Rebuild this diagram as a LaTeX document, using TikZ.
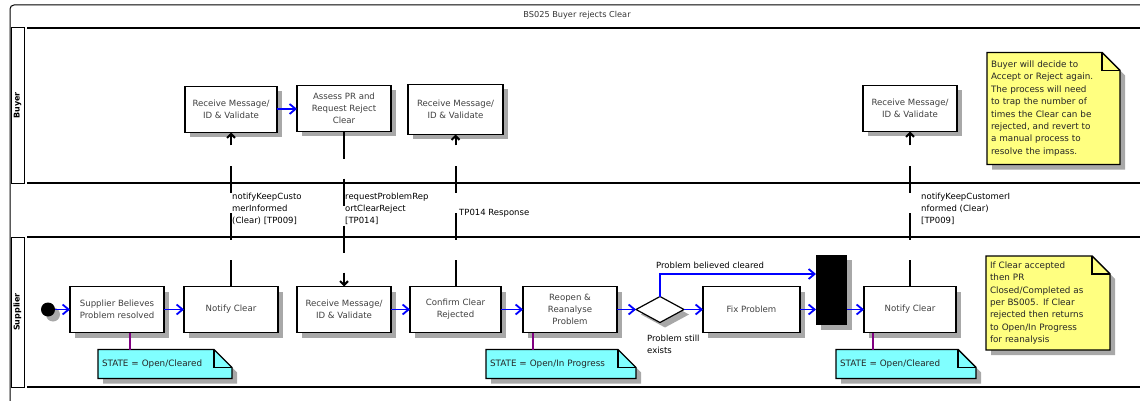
\documentclass[tikz,border=0pt]{standalone}
\usepackage{fontspec}
\setmainfont{DejaVu Sans}
\usetikzlibrary{arrows.meta,positioning,shapes.geometric,shadows}
\definecolor{bsblue}{RGB}{0,0,255}
\definecolor{bsgray}{RGB}{64,64,64}
\definecolor{bsshadow}{RGB}{168,168,168}
\definecolor{bsyellow}{RGB}{255,255,128}
\definecolor{bscyan}{RGB}{128,255,255}
\definecolor{bspurple}{RGB}{128,0,128}
\pgfdeclarelayer{background}
\pgfsetlayers{background,main}
% dog-eared note outline behind a text node
\newcommand{\notefold}[2]{%
  \begin{pgfonlayer}{background}
    \fill[bsshadow] ([shift={(5pt,-5pt)}]#1.north west) -- ([shift={(-13pt,-5pt)}]#1.north east) -- ([shift={(5pt,-23pt)}]#1.north east) -- ([shift={(5pt,-5pt)}]#1.south east) -- ([shift={(5pt,-5pt)}]#1.south west) -- cycle;
    \draw[line width=1.4pt, fill=#2] (#1.north west) -- ([xshift=-18pt]#1.north east) -- ([yshift=-18pt]#1.north east) -- (#1.south east) -- (#1.south west) -- cycle;
    \draw[line width=1.4pt] ([xshift=-18pt]#1.north east) -- ([shift={(-18pt,-18pt)}]#1.north east) -- ([yshift=-18pt]#1.north east);
  \end{pgfonlayer}}

\begin{document}
\begin{tikzpicture}[
  x=1pt, y=-1pt,
  node distance=20pt and 20pt,
  shade/.style={drop shadow={shadow xshift=5pt, shadow yshift=-5pt, fill=bsshadow, opacity=1}},
  activity/.style={draw, line width=1.2pt, fill=white, shade, minimum width=94pt, minimum height=46pt, align=center, text=bsgray, font=\fontsize{8.6}{12}\selectfont, inner sep=2pt, outer sep=0pt},
  decision/.style={draw, diamond, line width=1.2pt, fill=white, shade, minimum width=48pt, minimum height=26pt, inner sep=0pt, outer sep=0pt},
  syncbar/.style={fill=black, shade, minimum width=31pt, minimum height=70pt, inner sep=0pt, outer sep=0pt},
  startdot/.style={circle, fill=black, shade, minimum size=14pt, inner sep=0pt, outer sep=0pt},
  notetext/.style={align=left, inner sep=4pt, outer sep=0pt, font=\fontsize{8.8}{12.4}\selectfont, text=black!85},
  statenote/.style={align=left, inner sep=4pt, outer sep=0pt, minimum height=29pt, font=\fontsize{8.8}{10}\selectfont, text=black!85},
  lanelabel/.style={draw, line width=1pt, rotate=90, minimum height=13pt, inner sep=0pt, font=\bfseries\fontsize{8}{8}\selectfont},
  msglabel/.style={align=left, inner sep=0pt, font=\fontsize{8.5}{12}\selectfont},
  flow/.style={-{Straight Barb[length=6pt,width=10pt]}, line width=1.8pt, bsblue},
  msg/.style={-{Straight Barb[length=4pt,width=8pt]}, line width=2pt, dash pattern=on 27pt off 20pt},
  stateline/.style={line width=1.8pt, bspurple}
]
\useasboundingbox (0,0) rectangle (1140,401);

% frame and swimlanes
\draw[line width=1pt, rounded corners=4pt] (10,405) -- (10,5) -- (1150,5);
\foreach \y in {28,183,237,387}
  \draw[line width=1.2pt] (27,\y) -- (1150,\y);
\node[font=\fontsize{8.2}{10}\selectfont, text=black!80] (title) at (577,15) {BS025 Buyer rejects Clear};
\node[lanelabel, minimum width=155pt] (buyerlane) at (17.5,105.5) {Buyer};
\node[lanelabel, minimum width=150pt] (supplierlane) at (17.5,312) {Supplier};

% supplier activities
\node[activity] (supA) at (117,309.5) {Supplier Believes\\Problem resolved};
\node[startdot, left=15pt of supA] (startA) {};
\node[activity, right=20pt of supA] (notifyA) {Notify Clear};
\node[activity, right=19pt of notifyA] (recvB) {Receive Message/\\ID \& Validate};
\node[activity, right=19pt of recvB, minimum width=91pt] (confirmA) {Confirm Clear\\Rejected};
\node[activity, right=22pt of confirmA] (reopenA) {Reopen \&\\Reanalyse\\Problem};
\node[decision, right=19pt of reopenA] (decisionA) {};
\node[activity, right=19pt of decisionA, minimum width=97pt] (fixA) {Fix Problem};
\node[syncbar, right=16pt of fixA, yshift=19.5pt] (barA) {};
\node[activity, right=64pt of fixA, minimum width=92pt] (notifyB) {Notify Clear};

% buyer activities
\node[activity, above=154pt of notifyA, minimum width=92pt] (recvA) {Receive Message/\\ID \& Validate};
\node[activity, above=155pt of recvB] (assessA) {Assess PR and\\Request Reject\\Clear};
\node[activity, above=152pt of confirmA, minimum width=95pt, minimum height=50pt] (recvC) {Receive Message/\\ID \& Validate};
\node[activity, above=155pt of notifyB] (recvD) {Receive Message/\\ID \& Validate};

% notes
\node[notetext, right=30pt of recvD, text width=125pt, minimum height=112pt] (noteBuyer) {Buyer will decide to\\Accept or Reject again.\\The process will need\\to trap the number of\\times the Clear can be\\rejected, and revert to\\a manual process to\\resolve the impass.};
\node[notetext, right=30pt of notifyB, yshift=6.5pt, text width=116pt, minimum height=94pt] (noteSupplier) {If Clear accepted\\then PR\\Closed/Completed as\\per BS005.  If Clear\\rejected then returns\\to Open/In Progress\\for reanalysis};
\node[statenote, below right=17pt and 28pt of supA.south west, text width=126pt] (stateA) {STATE = Open/Cleared};
\node[statenote, below right=17pt and -37pt of reopenA.south west, text width=142pt] (stateB) {STATE = Open/In Progress};
\node[statenote, below right=17pt and -28pt of notifyB.south west, text width=132pt] (stateC) {STATE = Open/Cleared};
\notefold{noteBuyer}{bsyellow}
\notefold{noteSupplier}{bsyellow}
\notefold{stateA}{bscyan}
\notefold{stateB}{bscyan}
\notefold{stateC}{bscyan}
\draw[stateline] ([xshift=32pt]stateA.north west) -- ([xshift=32pt]stateA.north west |- supA.south);
\draw[stateline] ([xshift=47pt]stateB.north west) -- ([xshift=47pt]stateB.north west |- reopenA.south);
\draw[stateline] ([xshift=37pt]stateC.north west) -- ([xshift=37pt]stateC.north west |- notifyB.south);

% control flow
\draw[flow] (startA) -- (supA);
\draw[flow] (supA) -- (notifyA);
\draw[flow] (recvA) -- (assessA);
\draw[flow] (recvB) -- (confirmA);
\draw[flow] (confirmA) -- (reopenA);
\draw[flow] (reopenA) -- (decisionA);
\draw[flow] (decisionA) -- (fixA);
\draw[flow] (fixA.east) -- (fixA.east -| barA.west);
\draw[flow] (barA.east |- notifyB) -- (notifyB);
\draw[flow] (decisionA.north) |- ([yshift=-19pt]barA.north west);
\node[msglabel, anchor=west] (clearedlbl) at (656,265) {Problem believed cleared};
\node[msglabel, anchor=north west] (existslbl) at (647,335) {Problem still\\exists};

% messages between lanes
\draw[msg] (notifyA.north -| recvA) -- (recvA.south);
\draw[msg] (assessA.south) -- (recvB.north);
\draw[msg] (confirmA.north) -- (recvC.south);
\draw[msg] (notifyB.north) -- (recvD.south);
\node[msglabel, anchor=north west] (msgA) at (232,193) {notifyKeepCusto\\merInformed\\(Clear) [TP009]};
\node[msglabel, anchor=north west] (msgB) at (345,193) {requestProblemRep\\ortClearReject\\{}[TP014]};
\node[msglabel, anchor=west] (msgC) at (459,213) {TP014 Response};
\node[msglabel, anchor=north west] (msgD) at (921,193) {notifyKeepCustomerI\\nformed (Clear)\\{}[TP009]};
\end{tikzpicture}
\end{document}
